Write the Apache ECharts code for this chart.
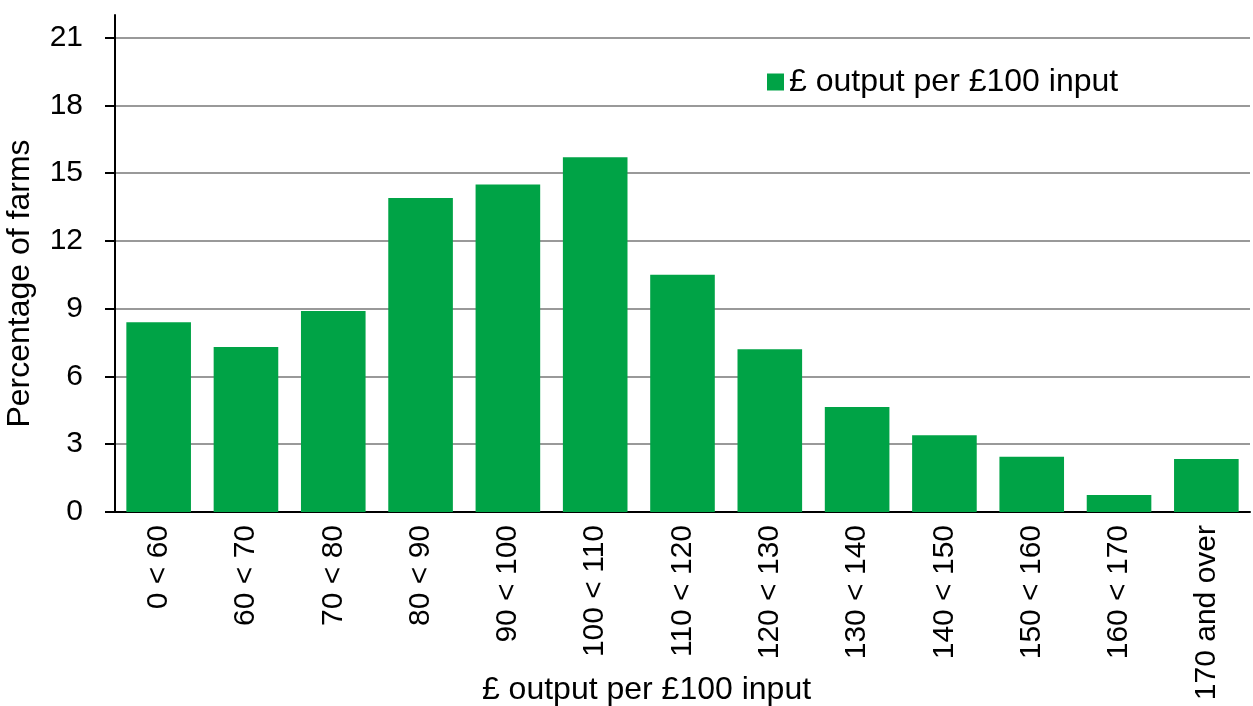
<!DOCTYPE html>
<html>
<head>
<meta charset="utf-8">
<script src="https://cdn.jsdelivr.net/npm/echarts@6/dist/echarts.min.js"></script>
<style>
  html, body { margin: 0; padding: 0; background: #fff; }
  #chart { width: 1253px; height: 706px; }
</style>
</head>
<body>
<div id="chart"></div>
<script>
// bands of £ output per £100 input
const categories = ['0 < 60', '60 < 70', '70 < 80', '80 < 90', '90 < 100', '100 < 110',
  '110 < 120', '120 < 130', '130 < 140', '140 < 150', '150 < 160', '160 < 170', '170 and over']
// percentage of farms
const farmShare = [8.4, 7.3, 8.9, 13.9, 14.5, 15.7, 10.5, 7.2, 4.65, 3.4, 2.45, 0.75, 2.35]
const yTicks = [0, 3, 6, 9, 12, 15, 18, 21]

const font = 'Liberation Sans, Arial, sans-serif'

const chart = echarts.init(document.getElementById('chart'))
chart.setOption({
  animation: false,
  textStyle: { fontFamily: font },
  legend: {
    left: 762,
    top: 61,
    icon: 'rect',
    itemWidth: 17,
    itemHeight: 17,
    itemGap: 6,
    textStyle: { fontSize: 32, color: '#000', fontFamily: font }
  },
  grid: {
    left: 115,
    right: 3,
    top: 15,
    bottom: 194,
    outerBoundsMode: 'none'
  },
  xAxis: {
    type: 'category',
    data: categories,
    name: '£ output per £100 input',
    nameLocation: 'middle',
    nameGap: 162,
    nameMoveOverlap: false,
    nameTextStyle: { fontSize: 32, color: '#000', fontFamily: font, padding: [0, 72, 0, 0] },
    axisLine: { lineStyle: { color: '#000', width: 2 } },
    axisTick: { show: false },
    axisLabel: {
      rotate: 90,
      fontSize: 30,
      color: '#000',
      margin: 13,
      interval: 0,
      fontFamily: font
    }
  },
  yAxis: {
    type: 'value',
    min: 0,
    max: 22,
    interval: 3,
    name: 'Percentage of farms',
    nameLocation: 'middle',
    nameGap: 79,
    nameMoveOverlap: false,
    nameTextStyle: { fontSize: 32, color: '#000', fontFamily: font, padding: [0, 40, 0, 0] },
    axisLine: { show: true, lineStyle: { color: '#000', width: 2 } },
    axisTick: { show: true, length: 10, customValues: yTicks, lineStyle: { color: '#000', width: 2 } },
    axisLabel: { fontSize: 30, color: '#000', margin: 32, customValues: yTicks, fontFamily: font },
    splitLine: { lineStyle: { color: '#999', width: 2 } }
  },
  series: [{
    name: '£ output per £100 input',
    type: 'bar',
    data: farmShare,
    barWidth: '74%',
    itemStyle: { color: '#00A346' }
  }]
})
</script>
</body>
</html>
